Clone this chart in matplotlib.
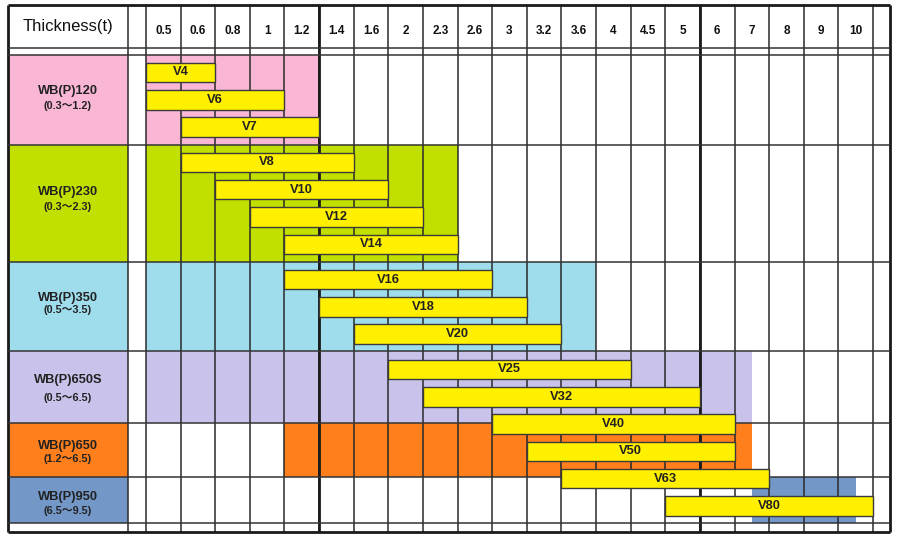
import matplotlib
matplotlib.use("Agg")
import matplotlib.pyplot as plt

plt.rcParams['font.family'] = ['Liberation Sans', 'Noto Sans CJK KR', 'DejaVu Sans']

# thickness columns of the table
thickness = ["0.5", "0.6", "0.8", "1", "1.2", "1.4", "1.6", "2", "2.3", "2.6",
             "3", "3.2", "3.6", "4", "4.5", "5", "6", "7", "8", "9", "10"]

# machine grades (left column) and their shaded span on the thickness grid
grades = ["WB(P)120", "WB(P)230", "WB(P)350", "WB(P)650S", "WB(P)650", "WB(P)950"]
grade_ranges = ["(0.3～1.2)", "(0.3～2.3)", "(0.5～3.5)", "(0.5～6.5)",
                "(1.2～6.5)", "(6.5～9.5)"]
grade_from = [0, 0, 0, 0, 4, 17.5]      # in columns, .5 = half a column
grade_to = [5, 9, 13, 17.5, 17.5, 20.5]
grade_colors = ["#FAB6D5", "#C2E000", "#9FDDEC", "#C9C3EB", "#FF7F1C", "#7397C6"]

# V dies: first and last thickness covered
dies = ["V4", "V6", "V7", "V8", "V10", "V12", "V14", "V16", "V18", "V20",
        "V25", "V32", "V40", "V50", "V63", "V80"]
die_from = ["0.5", "0.5", "0.6", "0.6", "0.8", "1", "1.2", "1.2", "1.4", "1.6",
            "2", "2.3", "3", "3.2", "3.6", "5"]
die_to = ["0.6", "1", "1.2", "1.4", "1.6", "2", "2.3", "2.6", "3", "3.2",
          "4", "5", "6", "6", "7", "10"]
die_group = [0, 0, 0, 1, 1, 1, 1, 2, 2, 2, 3, 3, 3, 3, 3, 3]

# ---- layout (pixel-like rows, column units across) ----
col_px = 34.62
left_px = 146
row_edges = [55, 145, 262, 351, 423, 477, 523]
title_y = [91, 192, 298, 380, 446, 497]
range_y = [106, 207, 310, 398, 459, 511]
top, head_bot, strip_bot, bottom = 5, 48, 55, 532
lab_x0, lab_x1 = -3.99, -0.52
right_x = 21.5
bar_h = 19.5

fig = plt.figure(figsize=(9, 5.4), dpi=100)
ax = fig.add_axes([0, 0, 1, 1])
ax.set_xlim(-left_px / col_px, (900 - left_px) / col_px)
ax.set_ylim(540, 0)
ax.axis('off')

n = len(thickness)
idx = {t: i for i, t in enumerate(thickness)}

# grade bands
for i, g in enumerate(grades):
    y0, y1 = row_edges[i], row_edges[i + 1]
    yc = (y0 + y1) / 2
    ax.barh(yc, lab_x1 - lab_x0, left=lab_x0, height=y1 - y0,
            color=grade_colors[i], zorder=1)
    ax.barh(yc, grade_to[i] - grade_from[i], left=grade_from[i], height=y1 - y0,
            color=grade_colors[i], zorder=1)
    xc = (lab_x0 + lab_x1) / 2
    ax.text(xc, title_y[i], g, ha='center', va='center', fontsize=9.3,
            fontweight='bold', color='#222222', zorder=5)
    ax.text(xc, range_y[i], grade_ranges[i], ha='center', va='center',
            fontsize=7.8, fontweight='bold', color='#222222', zorder=5)

# grid
vx = [lab_x1] + list(range(n + 1))
ax.vlines(vx, top, bottom, color='#2a2a2a', lw=1.1, zorder=2)
ax.vlines([5, 16], top, bottom, color='#1a1a1a', lw=2.0, zorder=2)
ax.vlines([lab_x0, right_x], top, bottom, color='#1a1a1a', lw=2.0, zorder=2)
ax.hlines([head_bot, strip_bot] + row_edges[1:], lab_x0, right_x,
          color='#333333', lw=1.1, zorder=2)
ax.hlines([top, bottom], lab_x0, right_x, color='#1a1a1a', lw=2.0, zorder=2)

# header
ax.text((lab_x0 + lab_x1) / 2, 27, "Thickness(t)", ha='center', va='center',
        fontsize=12, color='#111111', zorder=5)
for i, t in enumerate(thickness):
    ax.text(i + 0.5, 30.5, t, ha='center', va='center', fontsize=8.5,
            fontweight='bold', color='#111111', zorder=5)

# die bars
for k, d in enumerate(dies):
    x0 = idx[die_from[k]]
    x1 = idx[die_to[k]] + 1
    ytop = 62.7 + 27.3 * k + 8 * die_group[k]
    yc = ytop + bar_h / 2
    ax.barh(yc, x1 - x0, left=x0, height=bar_h, color='#FFF000',
            edgecolor='#3a3a3a', linewidth=1.0, zorder=3)
    ax.text((x0 + x1) / 2, yc, d, ha='center', va='center', fontsize=9.3,
            fontweight='bold', color='#222222', zorder=5)

fig.savefig("out.png", dpi=100)
